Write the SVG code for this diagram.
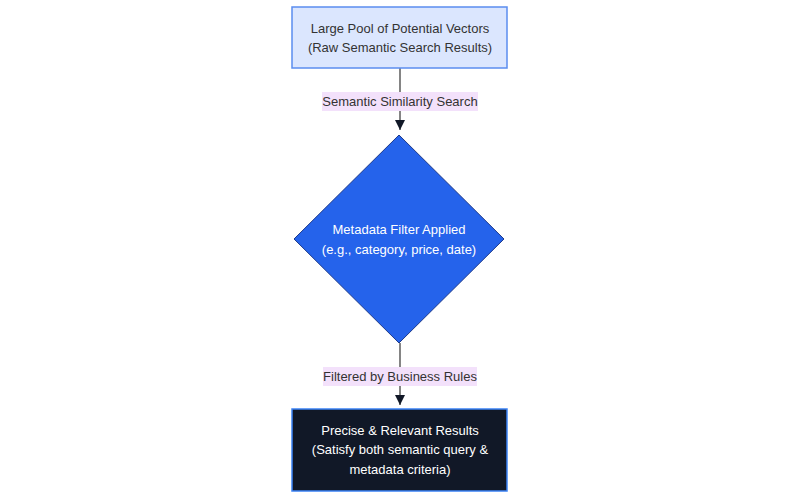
<svg xmlns="http://www.w3.org/2000/svg" width="800" height="500" viewBox="0 0 800 500">
<defs>
<style>
text{font-family:"Liberation Sans",Arial,sans-serif;font-size:13px;text-anchor:middle}
.dark{fill:#333333}
.light{fill:#ffffff}
.lblbg{fill:#f3e1fb}
.edge{stroke:#333333;stroke-width:1.2;fill:none}
</style>
<marker id="arrow" viewBox="0 0 10 10" refX="10" refY="5" markerWidth="10" markerHeight="10" markerUnits="userSpaceOnUse" orient="auto">
<path d="M0,0 L10,5 L0,10 z" fill="#111827"/>
</marker>
</defs>
<rect width="800" height="500" fill="#ffffff"/>
<g id="connectors">
<line class="edge" x1="400" y1="68" x2="400" y2="130" marker-end="url(#arrow)"/>
<line class="edge" x1="400" y1="343" x2="400" y2="405" marker-end="url(#arrow)"/>
<g id="label1">
<rect class="lblbg" x="322" y="92" width="156" height="19"/>
<text class="dark" x="400" y="106">Semantic Similarity Search</text>
</g>
<g id="label2">
<rect class="lblbg" x="323" y="367" width="154" height="19"/>
<text class="dark" x="400" y="381">Filtered by Business Rules</text>
</g>
</g>
<g id="node-pool">
<rect x="292" y="7" width="215" height="61" fill="#dbe6fe" stroke="#5b8def" stroke-width="1.5"/>
<text class="dark" x="400" y="33">Large Pool of Potential Vectors</text>
<text class="dark" x="400" y="52">(Raw Semantic Search Results)</text>
</g>
<g id="node-filter">
<polygon points="399,135 504,239 399,343 294,239" fill="#2563eb" stroke="#1e3a8a" stroke-width="1"/>
<text class="light" x="399" y="234">Metadata Filter Applied</text>
<text class="light" x="399" y="254">(e.g., category, price, date)</text>
</g>
<g id="node-results">
<rect x="292" y="409" width="215" height="82" fill="#111827" stroke="#3b82f6" stroke-width="1.5"/>
<text class="light" x="400" y="435">Precise &amp; Relevant Results</text>
<text class="light" x="400" y="454">(Satisfy both semantic query &amp;</text>
<text class="light" x="400" y="474">metadata criteria)</text>
</g>
</svg>
